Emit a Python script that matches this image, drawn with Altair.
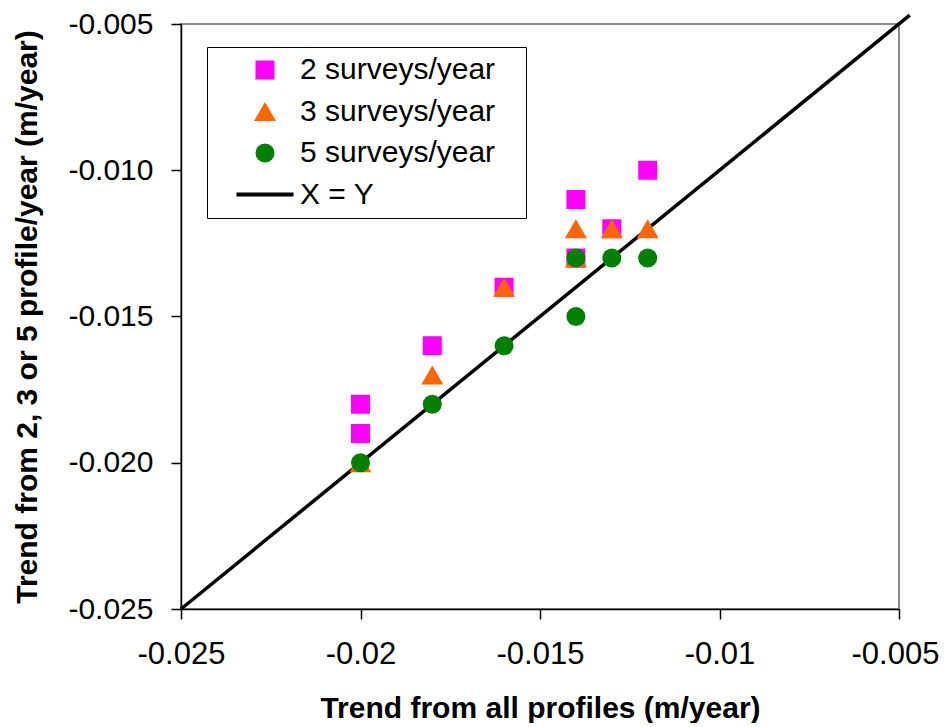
import altair as alt
import pandas as pd

# ---- data ----
series_names = ["2 surveys/year", "3 surveys/year", "5 surveys/year", "X = Y"]

sq_x = [-0.020, -0.020, -0.018, -0.016, -0.014, -0.014, -0.013, -0.012]
sq_y = [-0.018, -0.019, -0.016, -0.014, -0.011, -0.013, -0.012, -0.010]

tri_x = [-0.020, -0.018, -0.016, -0.014, -0.014, -0.013, -0.012]
tri_y = [-0.020, -0.017, -0.014, -0.012, -0.013, -0.012, -0.012]

cir_x = [-0.020, -0.018, -0.016, -0.014, -0.014, -0.013, -0.012]
cir_y = [-0.020, -0.018, -0.016, -0.013, -0.015, -0.013, -0.013]

line_x = [-0.025, -0.0047]
line_y = [-0.025, -0.0047]

tick_values = [-0.025, -0.020, -0.015, -0.010, -0.005]
axis_domain = [-0.025, -0.005]

# ---- tables ----
rows = []
for xs, ys, name in [(sq_x, sq_y, series_names[0]),
                     (tri_x, tri_y, series_names[1]),
                     (cir_x, cir_y, series_names[2])]:
    for a, b in zip(xs, ys):
        rows.append({"x": a, "y": b, "series": name})
points_df = pd.DataFrame(rows)
line_df = pd.DataFrame({"x": line_x, "y": line_y})

colors = ["#FF00FF", "#FF6600", "#008000", "#000000"]
shapes = ["square", "triangle-up", "circle", "M-3,0H3"]
sizes = [361, 484, 361, 361]
swidths = [0, 0, 0, 4]

xscale = alt.Scale(domain=axis_domain, nice=False, zero=False)
yscale = alt.Scale(domain=axis_domain, nice=False, zero=False)

xaxis = alt.Axis(
    values=tick_values,
    labelExpr="replace(format(datum.value, '~g'), '\u2212', '-')",
    title="Trend from all profiles (m/year)",
    grid=False, tickSize=10, labelPadding=20, labelFlush=False, titlePadding=24,
    labelFontSize=31,
    labelOffset={"condition": {"test": "datum.value > -0.006", "value": -4}, "value": 0},
)
yaxis = alt.Axis(
    values=tick_values,
    labelExpr="replace(format(datum.value, '.3f'), '\u2212', '-')",
    title="Trend from 2, 3 or 5 profile/year (m/year)",
    grid=False, tickSize=10, labelPadding=18, labelFlush=False, titlePadding=25,
)

legend = alt.Legend(
    title=None, orient="none", legendX=26, legendY=23,
    padding=8, symbolOffset=35, labelOffset=20, rowPadding=11.5,
    labelFontSize=30, labelLimit=400,
    strokeColor="#000000", fillColor="#ffffff",
    labelExpr="datum.label + '\u2800'",
)

line = alt.Chart(line_df).mark_line(color="#000000", strokeWidth=3.5, clip=False).encode(
    x=alt.X("x:Q", scale=xscale, axis=xaxis),
    y=alt.Y("y:Q", scale=yscale, axis=yaxis),
)

pts = alt.Chart(points_df).mark_point(opacity=1).encode(
    x=alt.X("x:Q", scale=xscale, axis=xaxis),
    y=alt.Y("y:Q", scale=yscale, axis=yaxis),
    fill=alt.Fill("series:N", scale=alt.Scale(domain=series_names, range=colors), legend=legend),
    stroke=alt.Stroke("series:N", scale=alt.Scale(domain=series_names, range=colors), legend=legend),
    shape=alt.Shape("series:N", scale=alt.Scale(domain=series_names, range=shapes), legend=legend),
    size=alt.Size("series:N", scale=alt.Scale(type="ordinal", domain=series_names, range=sizes), legend=legend),
    strokeWidth=alt.StrokeWidth("series:N", scale=alt.Scale(type="ordinal", domain=series_names, range=swidths), legend=legend),
)

chart = alt.layer(line, pts).properties(
    width=718, height=585,
    autosize=alt.AutoSizeParams(type="none"),
    padding={"left": 173, "top": 16, "right": 40, "bottom": 114},
).configure(
    font="Liberation Sans",
).configure_view(
    stroke="#8c8c8c", strokeWidth=2,
).configure_axis(
    labelFont="Liberation Sans", labelFontSize=30, labelColor="#000000",
    titleFont="Liberation Sans", titleFontSize=30, titleFontWeight="bold", titleColor="#000000",
    domainColor="#000000", domainWidth=1.5, tickColor="#000000", tickWidth=1.5,
)

chart.save("out.html", embed_options={"renderer": "svg", "actions": False})
